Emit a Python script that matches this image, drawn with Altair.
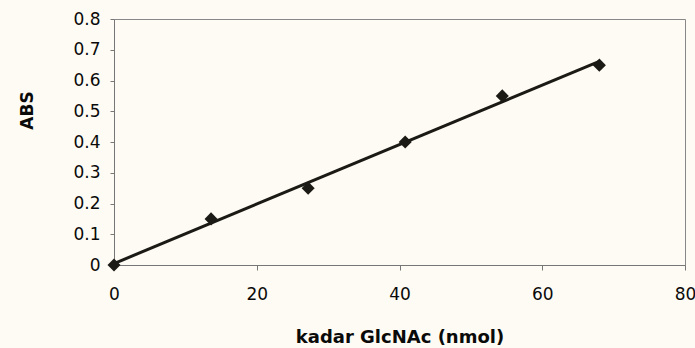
import altair as alt
import pandas as pd

# data
glcnac_nmol = [0, 13.6, 27.2, 40.8, 54.4, 68]
absorbance = [0, 0.15, 0.25, 0.40, 0.55, 0.65]
x_ticks = [0, 20, 40, 60, 80]
y_ticks = [0, 0.1, 0.2, 0.3, 0.4, 0.5, 0.6, 0.7, 0.8]

df = pd.DataFrame({"x": glcnac_nmol, "y": absorbance})

INK = "#1c1a14"
FONT = "DejaVu Sans"

x_axis = alt.Axis(
    values=x_ticks,
    title="kadar GlcNAc (nmol)",
    grid=False,
    tickSize=5,
    labelPadding=16,
    labelFlush=False,
    labelOverlap=False,
    labelFont=FONT,
    labelFontSize=17,
    labelColor="#0a0a0a",
    titleFont=FONT,
    titleFontSize=18,
    titleFontWeight="bold",
    titleColor="#0a0a0a",
    titleBaseline="alphabetic",
    titleY=77,
    domainColor="#777",
    tickColor="#777",
)
y_axis = alt.Axis(
    values=y_ticks,
    tickCount=9,
    format=".1~f",
    title="ABS",
    grid=False,
    tickSize=4,
    labelPadding=10,
    labelFlush=False,
    labelOverlap=False,
    labelFont=FONT,
    labelFontSize=17,
    labelColor="#0a0a0a",
    titleFont=FONT,
    titleFontSize=17,
    titleFontWeight="bold",
    titleColor="#0a0a0a",
    titleAngle=270,
    titleAlign="center",
    titleBaseline="alphabetic",
    titleX=-82,
    titleY=91,
    domainColor="#777",
    tickColor="#777",
)

x_scale = alt.Scale(domain=[0, 80], nice=False, zero=True)
y_scale = alt.Scale(domain=[0, 0.8], nice=False)

trend = (
    alt.Chart(df)
    .transform_regression("x", "y", method="linear")
    .mark_line(color=INK, strokeWidth=3)
    .encode(
        x=alt.X("x:Q", scale=x_scale, axis=x_axis),
        y=alt.Y("y:Q", scale=y_scale, axis=y_axis),
    )
)

points = (
    alt.Chart(df)
    .mark_point(shape="diamond", filled=True, color=INK, size=170, opacity=1)
    .encode(
        x=alt.X("x:Q", scale=x_scale, axis=x_axis),
        y=alt.Y("y:Q", scale=y_scale, axis=y_axis),
    )
)

chart = (
    alt.layer(trend, points)
    .properties(
        width=571,
        height=246,
        autosize=alt.AutoSizeParams(type="none"),
        padding={"left": 114, "top": 19, "right": 10, "bottom": 83},
        background="#fdfbf3",
    )
    .configure_view(stroke="#888", strokeWidth=1)
)

chart.save("out.html", embed_options={"renderer": "svg", "actions": False})
